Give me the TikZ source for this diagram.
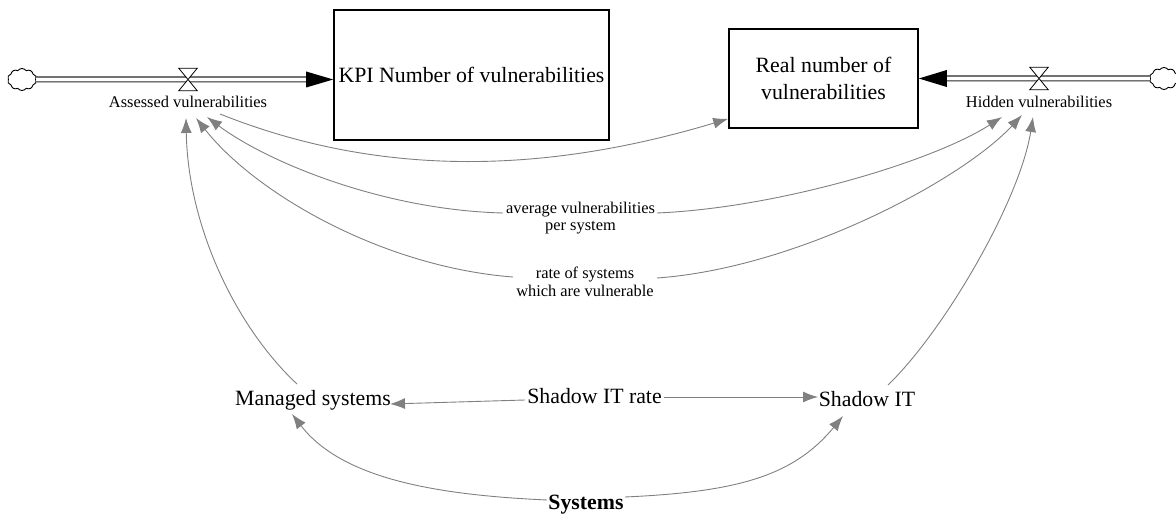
\documentclass[tikz,border=0pt]{standalone}
\usepackage{fontspec}
\setmainfont{Liberation Serif}
\usetikzlibrary{arrows.meta,calc,shapes.symbols}
\definecolor{linkgray}{RGB}{128,128,128}
\begin{document}
\begin{tikzpicture}[x=1pt,y=-1pt,
  big/.style={font=\fontsize{21.8}{24}\selectfont},
  small/.style={font=\fontsize{16.4}{17.5}\selectfont},
  stock/.style={draw=black, line width=1.6pt, inner sep=0pt},
  lbl/.style={inner sep=0pt, anchor=base},
  link/.style={draw=linkgray, line width=0.9pt, -{Latex[length=15pt,width=11pt]}},
  pipe/.style={draw=black!85, line width=1.1pt, double=white, double distance=3.8pt},
  sink/.style={cloud, cloud puffs=10, cloud puff arc=110, aspect=1.3, draw=black,
    line width=0.9pt, minimum width=29pt, minimum height=22pt, inner sep=0pt},
  valve/.style={minimum width=18pt, minimum height=22pt, inner sep=0pt},
  hourglass/.style={fill=white, draw=black, line width=0.8pt, line join=miter}
]
\useasboundingbox (0,0) rectangle (1176,518);

% stocks
\node[stock, big, minimum width=275pt, minimum height=130pt] (kpi) at (471.5,75)
  {KPI Number of vulnerabilities};
\node[stock, font=\fontsize{21.8}{27}\selectfont, align=center,
  minimum width=189pt, minimum height=99pt] (real) at (823.5,78.5)
  {Real number of\\vulnerabilities};

% sources
\node[sink] (cl) at (22,79.5) {};
\node[sink] (cr) at (1164,78.5) {};

% flows
\coordinate (kin) at ($(kpi.west)+(0,4.5)$);
\coordinate (rin) at (real.east);
\draw[pipe] (cl.east) -- ($(kin)+(-26,0)$);
\fill[black] (kin) -- ++(-27,-8) -- ++(0,16) -- cycle;
\draw[pipe] (cr.west) -- ($(rin)+(26,0)$);
\fill[black] (rin) -- ++(28,-8.5) -- ++(0,17) -- cycle;

\node[valve] (vl) at (188,79.5) {};
\node[valve] (vr) at (1039,78.5) {};
\filldraw[hourglass] (vl.north west) -- (vl.north east) -- (vl.south west) -- (vl.south east) -- cycle;
\filldraw[hourglass] (vr.north west) -- (vr.north east) -- (vr.south west) -- (vr.south east) -- cycle;

% labels and auxiliaries
\node[lbl, small] (asv) at (188,108) {Assessed vulnerabilities};
\node[lbl, small] (hid) at (1039,108) {Hidden vulnerabilities};
\node[small, align=center, inner sep=0pt] (avg) at (580.5,218) {average vulnerabilities\\per system};
\node[small, align=center, inner sep=0pt] (rate) at (585,282) {rate of systems\\which are vulnerable};
\node[lbl, big] (man) at (313,406) {Managed systems};
\node[lbl, big] (sitr) at (594.5,404) {Shadow IT rate};
\node[lbl, big] (sit) at (867,407) {Shadow IT};
\node[lbl, font={\fontsize{21.8}{24}\selectfont\bfseries}] (sys) at (586,510) {Systems};

% causal links
\draw[link] ($(asv.base)+(32,6)$) .. controls +(170,68) and +(-170,51) .. ($(real.south west)+(0,-10)$);
\draw[link] ($(avg.center)+(-77.5,-5)$) .. controls +(-120,-3) and +(60,45) .. ($(asv.base)+(19,9)$);
\draw[link] ($(avg.center)+(76.5,-5)$) .. controls +(120,-5) and +(-70,45) .. ($(hid.base)+(-37,9)$);
\draw[link] ($(rate.center)+(-72,-5)$) .. controls +(-130,-10) and +(60,76) .. ($(asv.base)+(8,10)$);
\draw[link] ($(rate.center)+(72,-4)$) .. controls +(140,-10) and +(-60,65) .. ($(hid.base)+(-17,7)$);
\draw[link] ($(man.base)+(-16,-22)$) .. controls +(-60,-56) and +(2,110) .. ($(asv.base)+(-2,10)$);
\draw[link] ($(sit.base)+(21,-22)$) .. controls +(57,-55) and +(-13,83) .. ($(hid.base)+(-6,9)$);
\draw[link] ($(sitr.base)+(-69.5,-4)$) -- ($(man.base)+(77,-2)$);
\draw[link] ($(sitr.base)+(69.5,-7)$) -- ($(sit.base)+(-49,-10)$);
\draw[link] ($(sys.base)+(-39,-10)$) .. controls +(-110,-5) and +(50,65) .. ($(man.base)+(-21,8)$);
\draw[link] ($(sys.base)+(39,-13)$) .. controls +(110,-5) and +(-50,61) .. ($(sit.base)+(-24,9)$);
\end{tikzpicture}
\end{document}
